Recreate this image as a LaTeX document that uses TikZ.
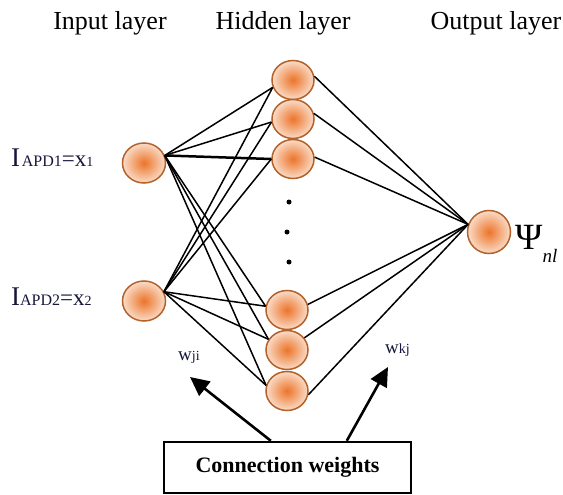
\documentclass[tikz,border=0pt]{standalone}
\usepackage{fontspec}
\setmainfont{Liberation Serif}
\usetikzlibrary{shapes.geometric,arrows.meta}
\definecolor{nodeedge}{RGB}{178,98,42}
\definecolor{nodecore}{RGB}{236,116,42}
\definecolor{nodeouter}{RGB}{250,220,200}
\definecolor{labelink}{RGB}{22,22,58}
\begin{document}
\begin{tikzpicture}[x=1pt,y=-1pt,
  neuron/.style={ellipse, draw=nodeedge, line width=1.5pt, inner color=nodecore,
    outer color=nodeouter, minimum width=42pt, minimum height=39pt, inner sep=0pt},
  link/.style={line width=1.5pt, black},
  heavylink/.style={line width=2.5pt, black},
  title/.style={font=\fontsize{26}{28}\selectfont, anchor=base},
  inlabel/.style={anchor=base west, text=labelink, inner sep=0pt},
  wlabel/.style={anchor=base west, text=labelink, inner sep=0pt},
  pointer/.style={line width=2.6pt, -{Triangle[length=19pt,width=18pt]}},
  dotmark/.style={circle, fill=black, inner sep=0pt, minimum size=5pt}]
\useasboundingbox (0,0) rectangle (563,495);

% layer titles
\node[title] (tin)  at (110,30) {Input layer};
\node[title] (thid) at (283,30) {Hidden layer};
\node[title] (tout) at (496,30) {Output layer};

% neurons
\node[neuron, minimum width=43pt, minimum height=40pt] (i1) at (144,163) {};
\node[neuron, minimum width=43pt, minimum height=40pt] (i2) at (144,301) {};
\node[neuron] (h1) at (293,80) {};
\node[neuron] (h2) at (293,119) {};
\node[neuron] (h3) at (293,159) {};
\node[neuron] (h4) at (287,310) {};
\node[neuron] (h5) at (287,350) {};
\node[neuron] (h6) at (287,391) {};
\node[neuron, minimum width=43pt, minimum height=43pt] (o) at (489,232) {};

% ellipsis between the hidden groups
\node[dotmark] (d1) at (289,202) {};
\node[dotmark] (d2) at (287,232) {};
\node[dotmark] (d3) at (289,262) {};

% input -> hidden
\foreach \s/\a in {i1/20,i2/25}{
  \draw[link] (\s.\a) -- (h1.200);
  \draw[link] (\s.\a) -- (h2.188);
  \draw[link] (\s.\a) -- (h4.170);
  \draw[link] (\s.\a) -- (h5.150);
  \draw[link] (\s.\a) -- (h6.165);
}
\draw[heavylink] (i1.20) -- (h3.180);
\draw[link] (i2.25) -- (h3.180);

% hidden -> output
\draw[link] (h1.10) -- (o.160);
\draw[link] (h2.15) -- (o.160);
\draw[link] (h3.5) -- (o.160);
\draw[link] (h4.15) -- (o.160);
\draw[link] (h5.35) -- (o.160);
\draw[link] (h6.-10) -- (o.160);

% input labels
\node[inlabel] (l1) at (11,166) {{\fontsize{27}{28}\selectfont I}\,{\fontsize{16}{18}\selectfont APD1}{\fontsize{23}{24}\selectfont=x}{\fontsize{14}{16}\selectfont 1}};
\node[inlabel] (l2) at (11,305) {{\fontsize{27}{28}\selectfont I}{\fontsize{16}{18}\selectfont APD2}{\fontsize{23}{24}\selectfont=x}{\fontsize{14}{16}\selectfont 2}};

% output label
\node[anchor=base west, inner sep=0pt] (lo) at (515,249) {{\fontsize{37}{38}\selectfont Ψ}\raisebox{-13pt}{\fontsize{19}{20}\selectfont\itshape nl}};

% weight labels
\node[wlabel] (wji) at (178,360) {{\fontsize{19}{20}\selectfont w}{\fontsize{14}{16}\selectfont ji}};
\node[wlabel] (wkj) at (385,353) {{\fontsize{19}{20}\selectfont w}{\fontsize{14}{16}\selectfont kj}};

% caption box and pointers
\node[draw, line width=2.4pt, minimum width=247pt, minimum height=51pt, inner sep=0pt,
      font=\bfseries\fontsize{22}{24}\selectfont] (box) at (287.5,467.5) {Connection weights};
\coordinate (tipji) at (190,377);
\coordinate (tipkj) at (388,367);
\draw[pointer] ([xshift=108pt]box.north west) -- (tipji);
\draw[pointer] ([xshift=184pt]box.north west) -- (tipkj);
\end{tikzpicture}
\end{document}
